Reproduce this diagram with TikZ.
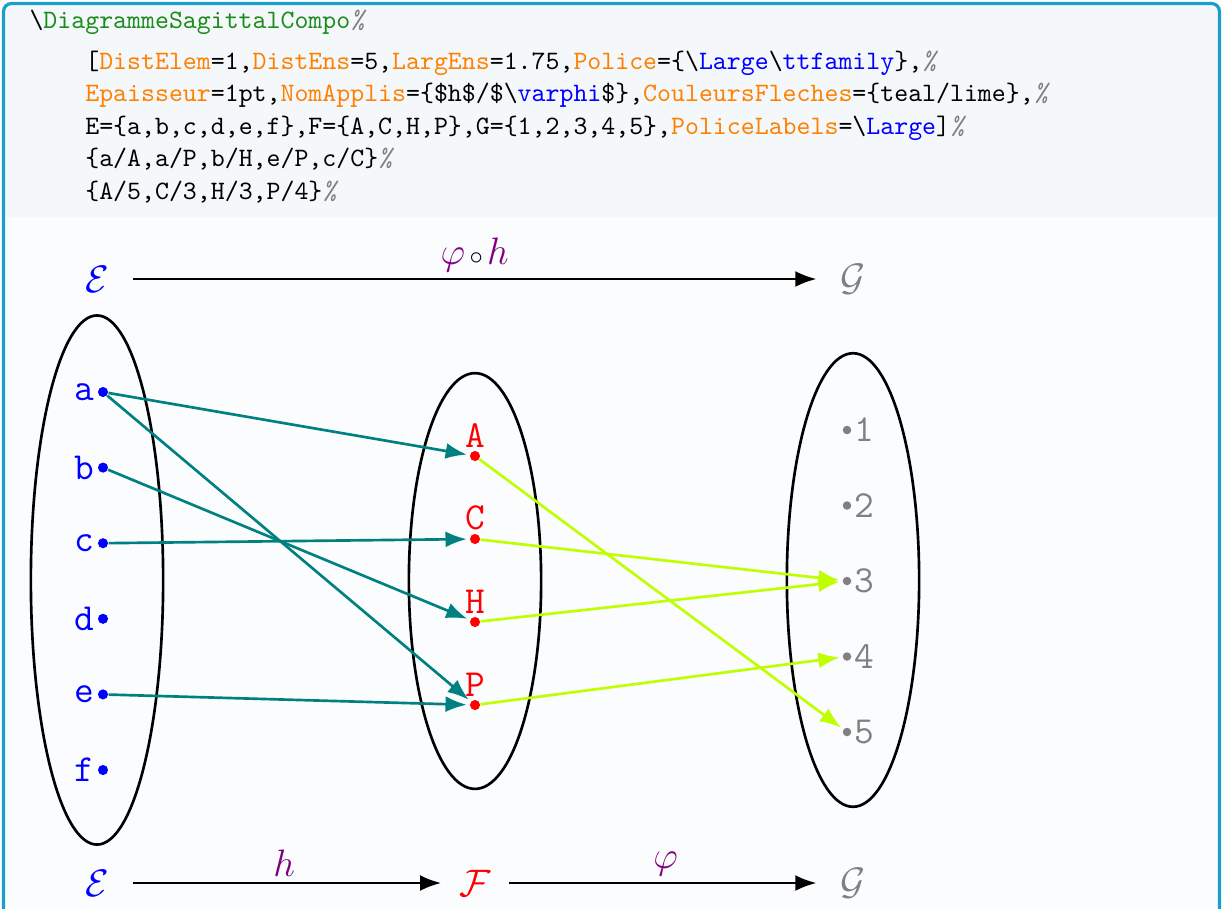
\documentclass[tikz,border=0pt]{standalone}
\usepackage{fontspec}
\usepackage{tikz}
\usetikzlibrary{arrows.meta,positioning}
\definecolor{sagcadre}{HTML}{1A9FCC}
\definecolor{sagfondhaut}{HTML}{F5F8FB}
\definecolor{sagfondbas}{HTML}{FAFCFE}
\definecolor{sagviolet}{HTML}{800080}
\definecolor{sagvert}{HTML}{1A8C1A}
\definecolor{sagorange}{HTML}{FF8000}
\newcommand\sagcle[1]{\textcolor{sagorange}{#1}}
\newcommand\sagcs[1]{\textbackslash\textcolor{blue}{#1}}
\newcommand\sagpct{\textcolor{gray}{\itshape\%}}

\begin{document}
\begin{tikzpicture}[x=0.3764pt,y=-0.3764pt,
    code/.style={anchor=base west, inner sep=0pt, font=\normalsize\ttfamily},
    ensemble/.style={black, line width=1pt},
    ptE/.style={circle, fill=blue, inner sep=0pt, minimum size=3.8pt, label distance=0.3pt,
      label={[blue, font=\Large\ttfamily, inner sep=1pt]left:#1}},
    ptF/.style={circle, fill=red, inner sep=0pt, minimum size=3.8pt, label distance=0.8pt,
      label={[red, font=\Large\ttfamily, inner sep=1pt]above:#1}},
    ptG/.style={circle, fill=gray, inner sep=0pt, minimum size=3.2pt, label distance=0pt,
      label={[gray, font=\Large\ttfamily, inner sep=1pt]right:#1}},
    nomens/.style={font=\Large, inner sep=2pt},
    fleche/.style={line width=1pt, -{Latex[length=8pt,width=6pt]}, shorten <=6.8pt, shorten >=6.8pt},
    applis/.style={above, font=\Large, inner sep=2pt},
    flecheh/.style={teal, line width=1pt, -{Latex[length=8pt,width=6pt]}, shorten >=1pt},
    flechephi/.style={lime, line width=1pt, -{Latex[length=8pt,width=6pt]}, shorten >=1pt}]
    \clip (0,0) rectangle (1223,908);
    % Cadre
    \fill[sagfondbas] (3.5,217) rectangle (1219.5,950);
    \fill[sagfondhaut] (3.5,217) [rounded corners=3pt] -- (3.5,3.5) -- (1219.5,3.5) [sharp corners] -- (1219.5,217) -- cycle;
    \draw[sagcadre, line width=1.2pt, rounded corners=3pt] (3.5,950) -- (3.5,3.5) -- (1219.5,3.5) -- (1219.5,950);
    % Code
    \node[code] (l1) at (29,28) {\textbackslash\textcolor{sagvert}{DiagrammeSagittalCompo}\sagpct};
    \node[code] (l2) at (84.8,69) {[\sagcle{DistElem}=1,\sagcle{DistEns}=5,\sagcle{LargEns}=1.75,\sagcle{Police}=\{\sagcs{Large}\sagcs{ttfamily}\},\sagpct};
    \node[code] (l3) at (84.8,101.5) {\sagcle{Epaisseur}=1pt,\sagcle{NomApplis}=\{\$h\$/\$\sagcs{varphi}\$\},\sagcle{CouleursFleches}=\{teal/lime\},\sagpct};
    \node[code] (l4) at (84.8,134) {E=\{a,b,c,d,e,f\},F=\{A,C,H,P\},G=\{1,2,3,4,5\},\sagcle{PoliceLabels}=\sagcs{Large}]\sagpct};
    \node[code] (l5) at (84.8,166.5) {\{a/A,a/P,b/H,e/P,c/C\}\sagpct};
    \node[code] (l6) at (84.8,199) {\{A/5,C/3,H/3,P/4\}\sagpct};
    % Ensembles
    \draw[ensemble] (97,580) ellipse [x radius=0.875cm, y radius=3.5cm];
    \draw[ensemble] (475,581) ellipse [x radius=0.875cm, y radius=2.75cm];
    \draw[ensemble] (853,580) ellipse [x radius=0.875cm, y radius=3cm];
    % Elements de E
    \node[ptE=a] (a) at (103,392) {};
    \node[ptE=b] (b) at (103,467.6) {};
    \node[ptE=c] (c) at (103,543.2) {};
    \node[ptE=d] (d) at (103,618.8) {};
    \node[ptE=e] (e) at (103,694.4) {};
    \node[ptE=f] (f) at (103,770) {};
    % Elements de F
    \node[ptF=A] (A) at (475,456) {};
    \node[ptF=C] (C) at (475,539) {};
    \node[ptF=H] (H) at (475,622) {};
    \node[ptF=P] (P) at (475,705) {};
    % Elements de G
    \node[ptG=1] (g1) at (847,430) {};
    \node[ptG=2] (g2) at (847,505.5) {};
    \node[ptG=3] (g3) at (847,581) {};
    \node[ptG=4] (g4) at (847,656.5) {};
    \node[ptG=5] (g5) at (847,732) {};
    % Fleches de h
    \draw[flecheh] (a) -- (A);
    \draw[flecheh] (a) -- (P);
    \draw[flecheh] (b) -- (H);
    \draw[flecheh] (e) -- (P);
    \draw[flecheh] (c) -- (C);
    % Fleches de phi
    \draw[flechephi] (A) -- (g5);
    \draw[flechephi] (C) -- (g3);
    \draw[flechephi] (H) -- (g3);
    \draw[flechephi] (P) -- (g4);
    % Composee en haut
    \node[nomens, blue] (Eh) at (97,279) {$\mathcal{E}$};
    \node[nomens, gray] (Gh) at (853,279) {$\mathcal{G}$};
    \draw[fleche] (Eh) -- node[applis] {$\textcolor{sagviolet}{\varphi}\mkern2mu{\scriptstyle\circ}\mkern2mu\textcolor{sagviolet}{h}$} (Gh);
    % Chaine en bas
    \node[nomens, blue] (Eb) at (97,883) {$\mathcal{E}$};
    \node[nomens, red] (Fb) at (475,883) {$\mathcal{F}$};
    \node[nomens, gray] (Gb) at (853,883) {$\mathcal{G}$};
    \draw[fleche, shorten >=4.6pt] (Eb) -- node[applis, sagviolet] {$h$} (Fb);
    \draw[fleche, shorten <=4.8pt] (Fb) -- node[applis, sagviolet] {$\varphi$} (Gb);
\end{tikzpicture}
\end{document}
